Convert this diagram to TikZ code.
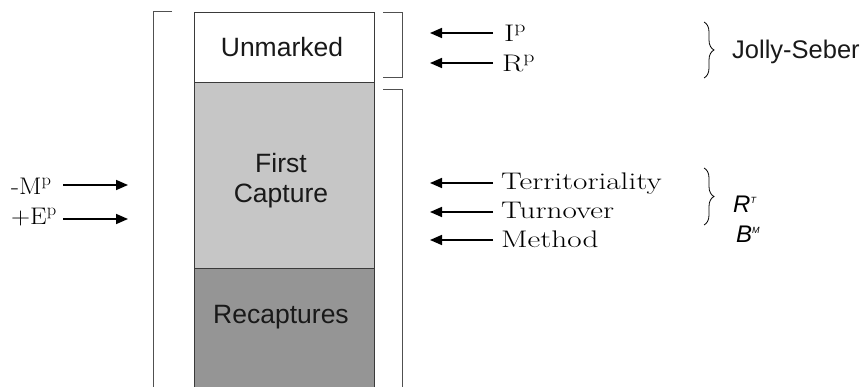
\documentclass[tikz,border=0pt]{standalone}
\usepackage{fontspec}
\usepackage{graphicx}
\newfontfamily\arial{Liberation Sans}
\usetikzlibrary{arrows.meta,decorations.pathreplacing}
\definecolor{firstgray}{HTML}{C6C6C6}
\definecolor{recapgray}{HTML}{959595}
\definecolor{edgegray}{HTML}{3A3A3A}
\definecolor{brackgray}{HTML}{505050}
\newcommand\wideser[1]{\scalebox{1.3}[1]{#1}}
\newcommand\leftser[1]{\scalebox{1.1}[1]{#1}}
\begin{document}
\begin{tikzpicture}[x=1pt,y=-1pt,
  colbox/.style={draw=edgegray, line width=0.9pt, minimum width=180pt, inner sep=0pt, outer sep=0pt},
  boxlabel/.style={font=\arial\fontsize{26.5}{30}\selectfont, align=center, text=black!90, inner sep=0pt},
  serlabel/.style={font=\fontsize{24}{28}\selectfont, anchor=base west, inner sep=0pt},
  italabel/.style={font=\arial\itshape\fontsize{24}{28}\selectfont, anchor=base west, inner sep=0pt},
  arr/.style={line width=1.6pt, -{Triangle[length=12pt,width=10pt]}},
  brack/.style={draw=brackgray, line width=1pt},
  curly/.style={decorate, decoration={brace, amplitude=10pt}, line width=0.8pt}
]
\useasboundingbox (0,0) rectangle (868,387);
% column
\node[colbox, minimum height=70pt] (unm) at (284,47) {};
\node[colbox, fill=firstgray, minimum height=186pt] (first) at (284,175) {};
\node[colbox, fill=recapgray, minimum height=140pt] (recap) at (284,338) {};
\node[boxlabel] (unmt) at (282,47) {Unmarked};
\node[boxlabel] (firstt) at (281,181) {First\\Capture};
\node[boxlabel] (recapt) at (281,317) {Recaptures};
% brackets
\draw[brack] (172,12) -- (153,12) -- (153,395);
\draw[brack] (383,12.5) -- (402.5,12.5) -- (402.5,77.5) -- (383,77.5);
\draw[brack] (383,89.5) -- (402.5,89.5) -- (402.5,395);
% right labels (top)
\node[serlabel] (ip) at (504,42) {\wideser{I\textsuperscript{p}}};
\node[serlabel] (rp) at (502,72) {\wideser{R\textsuperscript{p}}};
\coordinate (ipa) at (493,33); \coordinate (ipb) at (430,33);
\coordinate (rpa) at (493,63); \coordinate (rpb) at (430,63);
\draw[arr] (ipa) -- (ipb);
\draw[arr] (rpa) -- (rpb);
% braces
\coordinate (js1) at (704,22); \coordinate (js2) at (704,78);
\draw[curly] (js1) -- (js2);
\node[font=\arial\fontsize{25.5}{30}\selectfont, anchor=base west, inner sep=0pt, text=black!90] (jolly) at (732,59) {Jolly-Seber};
% middle labels
\node[serlabel] (terr) at (501,190) {\wideser{Territoriality}};
\node[serlabel] (turn) at (501,219) {\wideser{Turnover}};
\node[serlabel] (meth) at (501,248) {\wideser{Method}};
\coordinate (ta) at (493,183); \coordinate (tb) at (430,183);
\coordinate (ua) at (493,212); \coordinate (ub) at (430,212);
\coordinate (ma) at (493,240); \coordinate (mb) at (430,240);
\draw[arr] (ta) -- (tb);
\draw[arr] (ua) -- (ub);
\draw[arr] (ma) -- (mb);
\coordinate (rt1) at (704,168); \coordinate (rt2) at (704,225);
\draw[curly] (rt1) -- (rt2);
\node[italabel] (rt) at (733,213) {R\textsuperscript{\fontsize{9}{10}\selectfont T}};
\node[italabel] (bm) at (736,243) {B\textsuperscript{\fontsize{9}{10}\selectfont M}};
% left labels
\node[serlabel] (mp) at (11,195) {\leftser{-M\textsuperscript{p}}};
\node[serlabel] (ep) at (11,225) {\leftser{+E\textsuperscript{p}}};
\coordinate (mpa) at (63,185); \coordinate (mpb) at (128,185);
\coordinate (epa) at (63,219); \coordinate (epb) at (128,219);
\draw[arr] (mpa) -- (mpb);
\draw[arr] (epa) -- (epb);
\end{tikzpicture}
\end{document}
